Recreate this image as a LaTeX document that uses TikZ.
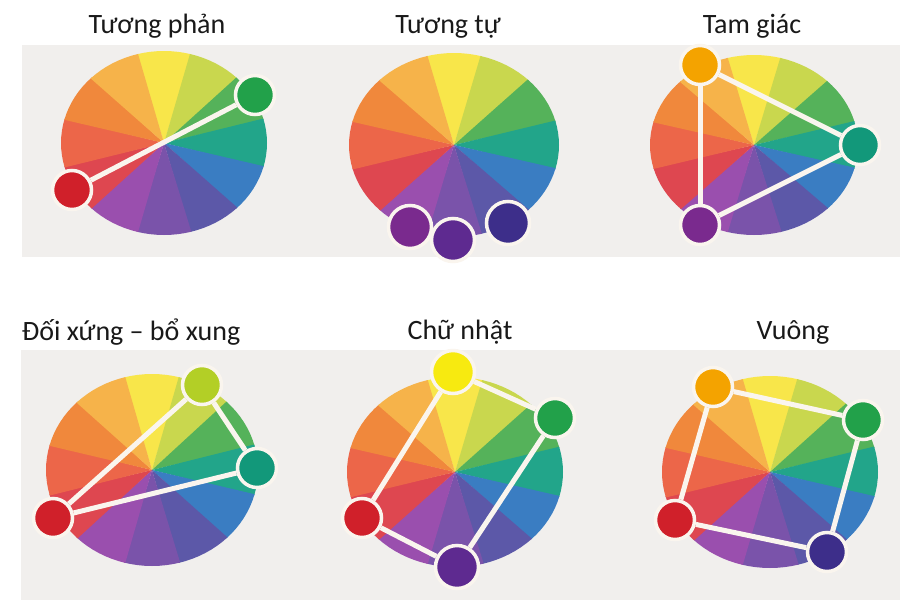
\documentclass[tikz,border=0pt]{standalone}
\usepackage{fontspec}
\setmainfont{Carlito}
\definecolor{bgband}{HTML}{F1EFED}
\definecolor{wY}{HTML}{F8E64A}
\definecolor{wYG}{HTML}{C9D74E}
\definecolor{wG}{HTML}{55B25A}
\definecolor{wT}{HTML}{22A58A}
\definecolor{wB}{HTML}{3A7DC2}
\definecolor{wBV}{HTML}{5C58A8}
\definecolor{wV}{HTML}{7A53AA}
\definecolor{wP}{HTML}{9A4FAE}
\definecolor{wR}{HTML}{DE4750}
\definecolor{wRO}{HTML}{EC6649}
\definecolor{wO}{HTML}{F0883C}
\definecolor{wYO}{HTML}{F6B34A}
\definecolor{ring}{HTML}{FAF5EE}
\definecolor{dGreen}{HTML}{22A14A}
\definecolor{dRed}{HTML}{D0202A}
\definecolor{dPurA}{HTML}{7A2A8E}
\definecolor{dPurB}{HTML}{5E2A90}
\definecolor{dIndigo}{HTML}{3D2E8A}
\definecolor{dOrange}{HTML}{F4A300}
\definecolor{dTeal}{HTML}{12987A}
\definecolor{dYG}{HTML}{B3CF26}
\definecolor{dYellow}{HTML}{F7EA10}
\tikzset{
  ttl/.style={anchor=base, font=\fontsize{28}{33}\selectfont, text=black!90, inner sep=0},
  huedot/.style={circle, draw=ring, line width=3.5pt, minimum size=39pt, inner sep=0},
  bighuedot/.style={huedot, minimum size=43pt},
  conn/.style={draw=ring, line width=5pt}
}
\newcommand\colwheel[4]{%
  \foreach \ang/\col in {-90/wY,-60/wYG,-30/wG,0/wT,30/wB,60/wBV,90/wV,120/wP,150/wR,180/wRO,210/wO,240/wYO}{%
    \fill[\col] (#1,#2) -- plot[domain=\ang-15.4:\ang+15.4, samples=9, variable=\t] ({#1+#3*cos(\t)},{#2+#4*sin(\t)}) -- cycle;
  }%
}
\begin{document}
\begin{tikzpicture}[x=1pt,y=-1pt]
\useasboundingbox (0,0) rectangle (900,600);
\fill[white] (0,0) rectangle (900,600);
\fill[bgband] (22,45) rectangle (900,257);
\fill[bgband] (21,350) rectangle (900,600);

% titles
\node[ttl] (t1) at (157,33) {Tương phản};
\node[ttl] (t2) at (448,33) {Tương tự};
\node[ttl] (t3) at (752,33) {Tam giác};
\node[ttl] (t4) at (131,340) {Đối xứng – bổ xung};
\node[ttl] (t5) at (460,339) {Chữ nhật};
\node[ttl] (t6) at (793,339) {Vuông};

% wheel 1: complementary
\colwheel{164}{143}{103}{92}
\node[huedot, fill=dGreen] (a1) at (255,95) {};
\node[huedot, fill=dRed] (a2) at (72,190) {};
\draw[conn] (a2) -- (a1);

% wheel 2: analogous
\colwheel{454}{145}{105}{92}
\node[bighuedot, fill=dPurA] (b1) at (410,227) {};
\node[bighuedot, fill=dIndigo] (b3) at (508,223) {};
\node[bighuedot, fill=dPurB] (b2) at (453,240) {};

% wheel 3: triad
\colwheel{754}{145}{104}{90}
\node[huedot, fill=dOrange] (c1) at (700,65) {};
\node[huedot, fill=dTeal] (c2) at (860,145) {};
\node[huedot, fill=dPurA] (c3) at (700,225) {};
\draw[conn] (c1) -- (c2);
\draw[conn] (c2) -- (c3);
\draw[conn] (c3) -- (c1);

% wheel 4: split complementary
\colwheel{152}{470}{106}{96}
\node[huedot, fill=dYG] (d1) at (202,385) {};
\node[huedot, fill=dTeal] (d2) at (257,468) {};
\node[huedot, fill=dRed] (d3) at (53,518) {};
\draw[conn] (d3) -- (d1);
\draw[conn] (d3) -- (d2);
\draw[conn] (d1) -- (d2);

% wheel 5: rectangle
\colwheel{455}{472}{108}{95}
\node[bighuedot, fill=dYellow] (e1) at (453,372) {};
\node[huedot, fill=dGreen] (e2) at (555,418) {};
\node[huedot, fill=dRed] (e3) at (362,518) {};
\node[bighuedot, fill=dPurB] (e4) at (457,567) {};
\draw[conn] (e1) -- (e2);
\draw[conn] (e1) -- (e3);
\draw[conn] (e2) -- (e4);
\draw[conn] (e3) -- (e4);

% wheel 6: square
\colwheel{770}{472}{108}{96}
\node[huedot, fill=dOrange] (f1) at (713,387) {};
\node[huedot, fill=dGreen] (f2) at (863,420) {};
\node[huedot, fill=dRed] (f3) at (675,520) {};
\node[huedot, fill=dIndigo] (f4) at (827,552) {};
\draw[conn] (f1) -- (f2);
\draw[conn] (f2) -- (f4);
\draw[conn] (f4) -- (f3);
\draw[conn] (f3) -- (f1);
\end{tikzpicture}
\end{document}
